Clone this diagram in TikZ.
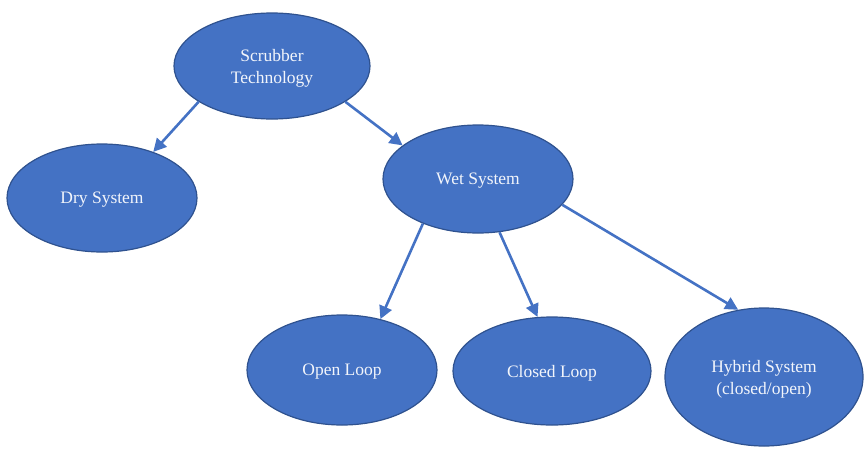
\documentclass[tikz,border=0pt]{standalone}
\usepackage{fontspec}
\setmainfont{Liberation Serif}
\usetikzlibrary{shapes.geometric,arrows.meta}
\definecolor{fillblue}{HTML}{4472C4}
\definecolor{edgeblue}{HTML}{2F528F}
\definecolor{textwhite}{HTML}{F2F5FB}
\tikzset{
  blob/.style={ellipse, fill=fillblue, draw=edgeblue, line width=1.2pt,
    inner sep=0pt, text=textwhite, align=center,
    font=\fontsize{17.5}{22}\selectfont},
  lbl/.style={text=textwhite, align=center, inner sep=0pt,
    font=\fontsize{17.5}{22}\selectfont},
  link/.style={draw=fillblue, line width=2.6pt,
    -{Triangle[length=13pt,width=13pt]}}
}
\begin{document}
\begin{tikzpicture}[x=1pt,y=-1pt]
\useasboundingbox (0,0) rectangle (865,448);
\node[blob, minimum width=196pt, minimum height=106pt] (scr) at (272,66) {};
\node[blob, minimum width=190pt, minimum height=108pt] (dry) at (102,198) {};
\node[blob, minimum width=190pt, minimum height=108pt] (wet) at (478,179) {};
\node[blob, minimum width=190pt, minimum height=110pt] (open) at (342,370) {};
\node[blob, minimum width=198pt, minimum height=108pt] (closed) at (552,371) {};
\node[blob, minimum width=198pt, minimum height=138pt] (hyb) at (764,377) {};
\node[lbl] (scrt) at ([yshift=-2pt]scr.center) {Scrubber\\Technology};
\node[lbl] (dryt) at ([yshift=-2pt]dry.center) {Dry System};
\node[lbl] (wett) at ([yshift=-2pt]wet.center) {Wet System};
\node[lbl] (opent) at ([yshift=-2pt]open.center) {Open Loop};
\node[lbl] (closedt) at ([yshift=-2pt]closed.center) {Closed Loop};
\node[lbl] (hybt) at ([yshift=-2pt]hyb.center) {Hybrid System\\(closed/open)};
\draw[link] (scr.206) -- (dry.42);
\draw[link] (scr.334) -- (wet.156);
\draw[link] (wet.219) -- (open.53);
\draw[link] (wet.292) -- (closed.105);
\draw[link] (wet.343) -- (hyb.111);
\end{tikzpicture}
\end{document}
